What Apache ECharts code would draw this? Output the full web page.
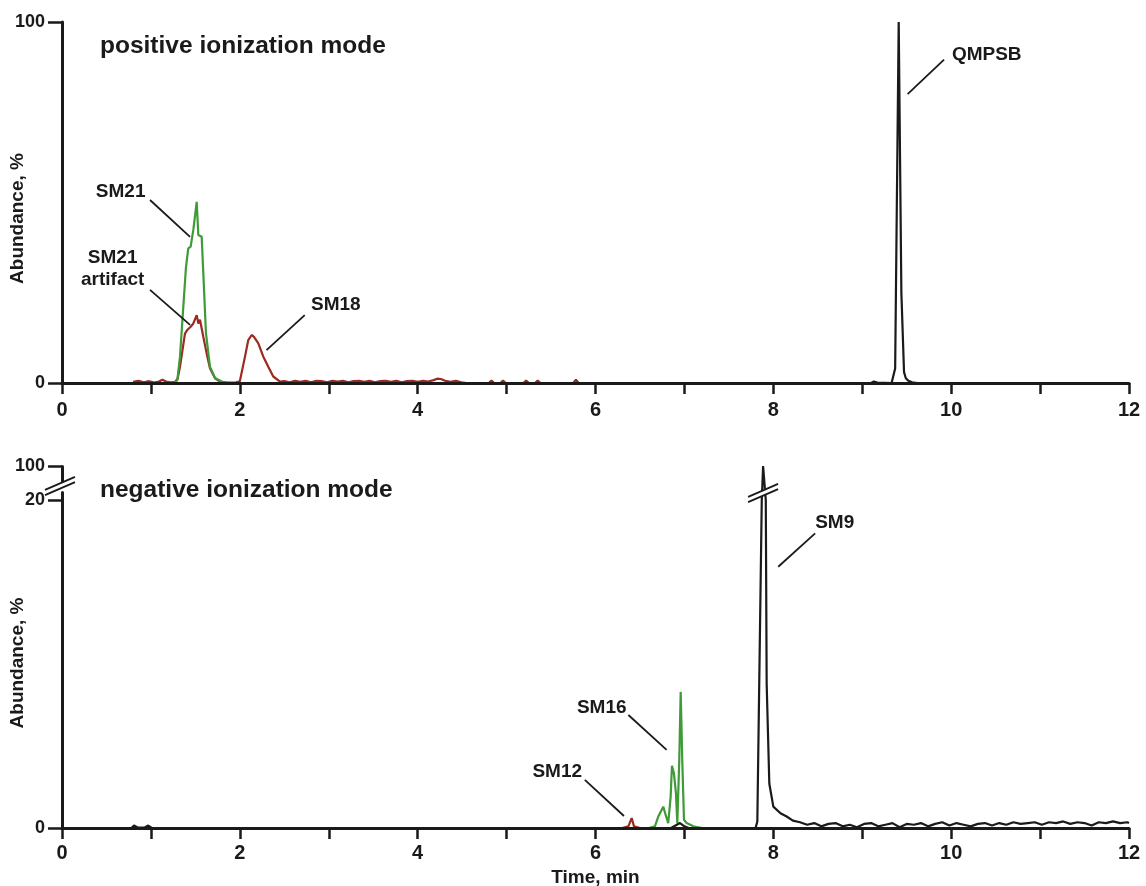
<!DOCTYPE html>
<html>
<head>
<meta charset="utf-8">
<script src="https://cdn.jsdelivr.net/npm/echarts@6/dist/echarts.min.js"></script>
<style>
  html, body { margin: 0; padding: 0; background: #fff; }
  #main { width: 1146px; height: 886px; }
</style>
</head>
<body>
<div id="main"></div>
<script>
// tick labels
var timeLabels = [0, 2, 4, 6, 8, 10, 12];
var posTicks = [0, 100];
var negTicks = [0, 20, 100];

// positive ionization mode: [time min, abundance %]
var posQMPSB = [[0, 0], [8.9, 0], [9.10, 0], [9.13, 0.4], [9.17, 0.1], [9.33, 0], [9.35, 0.5], [9.37, 4],
  [9.41, 100], [9.44, 25], [9.47, 3], [9.49, 1.3], [9.52, 0.6], [9.56, 0.2], [9.62, 0], [12, 0]];

var posSM21 = [[1.20, 0], [1.27, 0.2], [1.297, 0.8], [1.327, 7.3], [1.364, 21], [1.394, 32], [1.420, 37.3],
  [1.447, 37.8], [1.477, 42.4], [1.515, 50.2], [1.533, 41], [1.571, 40.5], [1.619, 13.8], [1.664, 4.5],
  [1.721, 1.4], [1.811, 0.2], [1.90, 0]];

var posRed = [[0.80, 0.3], [0.86, 0.6], [0.92, 0.2], [0.98, 0.5], [1.04, 0.1], [1.09, 0.4], [1.13, 0.9],
  [1.17, 0.4], [1.22, 0.2], [1.27, 0.3], [1.30, 1.2], [1.327, 4.5], [1.383, 13.7], [1.409, 14.7],
  [1.447, 15.6], [1.477, 16.5], [1.515, 18.8], [1.533, 16.5], [1.552, 17.5], [1.589, 12.8], [1.627, 8.2],
  [1.664, 4.1], [1.721, 1.3], [1.777, 0.4], [1.84, 0.2], [1.90, 0.1], [1.96, 0.2], [2.00, 0.5],
  [2.058, 7.3], [2.095, 11.9], [2.133, 13.3], [2.159, 12.8], [2.208, 11], [2.264, 7.3], [2.320, 4.5],
  [2.376, 1.8], [2.452, 0.4], [2.50, 0.5], [2.56, 0.2], [2.62, 0.6], [2.68, 0.3], [2.74, 0.6], [2.80, 0.2],
  [2.86, 0.6], [2.92, 0.5], [2.98, 0.2], [3.04, 0.6], [3.10, 0.4], [3.16, 0.6], [3.22, 0.2], [3.28, 0.5],
  [3.34, 0.6], [3.40, 0.3], [3.46, 0.6], [3.52, 0.2], [3.58, 0.5], [3.64, 0.6], [3.70, 0.3], [3.76, 0.6],
  [3.82, 0.2], [3.88, 0.5], [3.94, 0.6], [4.00, 0.3], [4.06, 0.6], [4.12, 0.4], [4.18, 0.8], [4.22, 1.2],
  [4.26, 1.1], [4.31, 0.6], [4.37, 0.3], [4.43, 0.6], [4.49, 0.2], [4.55, 0], [4.80, 0], [4.83, 0.7],
  [4.86, 0], [4.93, 0], [4.96, 0.7], [4.99, 0], [5.19, 0], [5.22, 0.7], [5.25, 0], [5.32, 0], [5.35, 0.7],
  [5.38, 0], [5.75, 0], [5.78, 0.9], [5.81, 0], [5.85, 0]];

// negative ionization mode
var negSM9 = [[0, 0], [0.78, 0], [0.81, 0.15], [0.85, 0.03], [0.93, 0.03], [0.97, 0.15], [1.01, 0],
  [6.85, 0], [6.90, 0.15], [6.95, 0.3], [7.00, 0.1], [7.05, 0], [7.80, 0], [7.82, 0.4], [7.87, 20],
  [7.885, 100], [7.915, 20], [7.925, 8.8], [7.955, 2.7], [8.00, 1.3], [8.08, 0.9], [8.15, 0.7],
  [8.22, 0.45], [8.30, 0.35], [8.38, 0.2], [8.46, 0.3], [8.54, 0.1], [8.62, 0.25], [8.70, 0.3], [8.78, 0.1],
  [8.86, 0.2], [8.94, 0.05], [9.02, 0.25], [9.10, 0.3], [9.18, 0.1], [9.26, 0.2], [9.34, 0.3], [9.42, 0.05],
  [9.50, 0.25], [9.58, 0.2], [9.66, 0.3], [9.74, 0.1], [9.82, 0.25], [9.90, 0.35], [9.98, 0.15],
  [10.06, 0.3], [10.14, 0.2], [10.22, 0.1], [10.30, 0.25], [10.38, 0.3], [10.46, 0.15], [10.54, 0.3],
  [10.62, 0.2], [10.70, 0.35], [10.78, 0.25], [10.86, 0.3], [10.94, 0.35], [11.02, 0.2], [11.10, 0.35],
  [11.18, 0.3], [11.26, 0.4], [11.34, 0.25], [11.42, 0.35], [11.50, 0.3], [11.58, 0.15], [11.66, 0.35],
  [11.74, 0.3], [11.82, 0.4], [11.90, 0.3], [11.98, 0.35], [12.0, 0.3]];

var negSM16 = [[6.60, 0], [6.668, 0.1], [6.706, 0.7], [6.725, 0.8], [6.762, 1.3], [6.789, 0.8], [6.818, 0.3],
  [6.845, 1.9], [6.860, 3.8], [6.883, 3.3], [6.905, 2.1], [6.920, 0.3], [6.942, 4.1], [6.958, 8.3],
  [6.976, 4.1], [6.995, 0.5], [7.025, 0.3], [7.10, 0.1], [7.20, 0]];

var negSM12 = [[6.30, 0], [6.369, 0.1], [6.407, 0.6], [6.433, 0.1], [6.50, 0]];

// compound labels: text, label centre, leader line from / to (data coords)
var posNotes = [
  { text: 'SM21', at: [0.66, 53.0], from: [0.99, 50.7], to: [1.44, 40.5] },
  { text: 'SM21\nartifact', at: [0.57, 31.6], from: [0.99, 25.8], to: [1.44, 16.1] },
  { text: 'SM18', at: [3.08, 21.6], from: [2.73, 18.8], to: [2.30, 9.1] },
  { text: 'QMPSB', at: [10.40, 91.0], from: [9.92, 89.6], to: [9.51, 80.0] }
];
var negNotes = [
  { text: 'SM12', at: [5.57, 3.43], from: [5.88, 2.93], to: [6.32, 0.73] },
  { text: 'SM16', at: [6.07, 7.32], from: [6.37, 6.89], to: [6.80, 4.76] },
  { text: 'SM9', at: [8.69, 18.6], from: [8.47, 17.97], to: [8.055, 15.93] }
];

var negBreak = { start: 20.49, end: 98.78 };

var ink = '#1a1a1a';
var green = '#3f9a38';
var red = '#9b2a20';
var font = '"Liberation Sans", Arial, Helvetica, sans-serif';

var chart = echarts.init(document.getElementById('main'));

function xAxisFor(grid, name, margin) {
  return {
    type: 'value', gridIndex: grid, min: 0, max: 12, interval: 1, z: 5,
    axisLine: { show: true, onZero: false, lineStyle: { color: ink, width: 3 } },
    axisTick: { show: true, inside: false, length: 11, lineStyle: { color: ink, width: 2.5 } },
    axisLabel: { customValues: timeLabels, margin: margin, color: ink, fontSize: 20, fontWeight: 'bold', fontFamily: font },
    splitLine: { show: false },
    name: name, nameLocation: 'middle', nameGap: 40, nameMoveOverlap: false,
    nameTextStyle: { color: ink, fontSize: 19, fontWeight: 'bold', fontFamily: font }
  };
}

function yAxisFor(grid, ticks) {
  return {
    type: 'value', gridIndex: grid, min: 0, max: 100, z: 5,
    axisLine: { show: true, onZero: false, lineStyle: { color: ink, width: 3 } },
    axisTick: { show: true, inside: false, length: 14, customValues: ticks, lineStyle: { color: ink, width: 2.5 } },
    axisLabel: { customValues: ticks, margin: 17, color: ink, fontSize: 18, fontWeight: 'bold', fontFamily: font },
    splitLine: { show: false },
    name: 'Abundance, %', nameLocation: 'middle', nameGap: 35, nameRotate: 90, nameMoveOverlap: false,
    nameTextStyle: { color: ink, fontSize: 19, fontWeight: 'bold', fontFamily: font, padding: [0, 32, 0, 0] }
  };
}

function trace(grid, data, color) {
  return {
    type: 'line', xAxisIndex: grid, yAxisIndex: grid, data: data,
    symbol: 'none', showSymbol: false, animation: false, z: 2,
    lineStyle: { color: color, width: 2.2 }, itemStyle: { color: color }
  };
}

function notes(grid, list) {
  return {
    type: 'scatter', xAxisIndex: grid, yAxisIndex: grid, z: 6, animation: false, silent: true,
    symbolSize: 1, itemStyle: { color: 'rgba(255,255,255,0)', opacity: 1 },
    data: list.map(function (n) { return { name: n.text, value: n.at }; }),
    label: {
      show: true, position: 'inside', formatter: '{b}', color: ink, opacity: 1, fontSize: 19,
      fontWeight: 'bold', fontFamily: font, lineHeight: 22, align: 'center',
      textBorderWidth: 0
    },
    markLine: {
      silent: true, animation: false, symbol: ['none', 'none'],
      lineStyle: { color: ink, width: 1.8, type: 'solid', opacity: 1 }, label: { show: false },
      data: list.map(function (n) { return [{ coord: n.from }, { coord: n.to }]; })
    }
  };
}

var yNeg = yAxisFor(1, negTicks);
yNeg.breaks = [{ start: negBreak.start, end: negBreak.end, gap: '1.66%' }];
yNeg.breakArea = { show: false };

chart.setOption({
  backgroundColor: '#fff',
  animation: false,
  title: [
    { text: 'positive ionization mode', left: 100, top: 34, padding: 0,
      textStyle: { color: ink, fontSize: 24.5, fontWeight: 'bold', fontFamily: font } },
    { text: 'negative ionization mode', left: 100, top: 478, padding: 0,
      textStyle: { color: ink, fontSize: 24.5, fontWeight: 'bold', fontFamily: font } }
  ],
  grid: [
    { left: 62, right: 17, top: 22, height: 361, outerBoundsMode: 'none' },
    { left: 62, right: 17, top: 466, height: 362, outerBoundsMode: 'none' }
  ],
  xAxis: [xAxisFor(0, '', 17), xAxisFor(1, 'Time, min', 15)],
  yAxis: [yAxisFor(0, posTicks), yNeg],
  series: [
    trace(0, posRed, red),
    trace(0, posSM21, green),
    trace(0, posQMPSB, ink),
    notes(0, posNotes),
    trace(1, negSM12, red),
    trace(1, negSM16, green),
    trace(1, negSM9, ink),
    notes(1, negNotes)
  ]
});

// double-slash marks where the negative-mode axis is broken
var yA = chart.convertToPixel({ gridIndex: 1 }, [0, negBreak.start]);
var yB = chart.convertToPixel({ gridIndex: 1 }, [0, negBreak.end]);
var peak = chart.convertToPixel({ gridIndex: 1 }, [7.885, negBreak.start]);
var cy = (yA[1] + yB[1]) / 2;

function slash(cx, y) {
  var dx = 15, dy = 6.5, s = 2.6;
  return [
    { type: 'polygon', z: 20, shape: { points: [[cx - dx, y + dy + s], [cx + dx, y - dy + s], [cx + dx, y - dy - s], [cx - dx, y + dy - s]] },
      style: { fill: '#fff' } },
    { type: 'line', z: 21, shape: { x1: cx - dx, y1: y + dy + s, x2: cx + dx, y2: y - dy + s }, style: { stroke: ink, lineWidth: 1.8 } },
    { type: 'line', z: 21, shape: { x1: cx - dx, y1: y + dy - s, x2: cx + dx, y2: y - dy - s }, style: { stroke: ink, lineWidth: 1.8 } }
  ];
}

chart.setOption({ graphic: slash(yA[0] - 2, cy - 3).concat(slash(peak[0], cy + 4)) });
</script>
</body>
</html>
